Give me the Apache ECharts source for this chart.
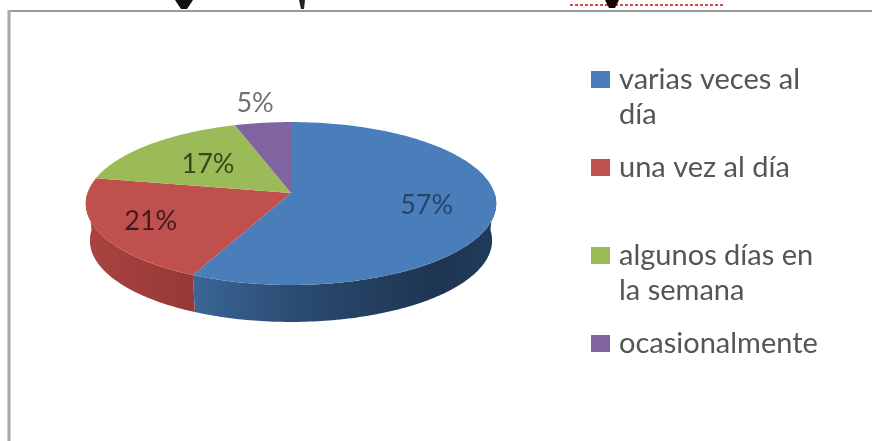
<!DOCTYPE html>
<html>
<head>
<meta charset="utf-8">
<style>
html, body { margin: 0; padding: 0; background: #fff; }
#chart { width: 872px; height: 441px; filter: blur(0.7px); }
</style>
<script src="https://cdn.jsdelivr.net/npm/echarts@6/dist/echarts.min.js"></script>
</head>
<body>
<div id="chart"></div>
<script>
const categories = ['varias veces al\ndía', 'una vez al día', 'algunos días en\nla semana', 'ocasionalmente'];
const values = [57, 21, 17, 5];
const labels = ['57%', '21%', '17%', '5%'];

const topColors = ['#4a7ebb', '#c0504d', '#9bbb59', '#8064a2'];
const labelColors = ['#2a4468', '#3c1c1c', '#2f4a1c', '#707070'];
const labelRadius = [0.67, 0.74, 0.57, 1.32];
const sideStops = [
    [[0, '#3b6596'], [0.35, '#2a4a70'], [0.8, '#1e3551'], [1, '#213c5c']],
    [[0, '#ab4340'], [1, '#943936']]
];
const sideRange = [[195, 497], [88, 196]];

// projected pie: far side shrunk, so the apex sits above the rim's middle
const CX = 291, CY = 193, RX = 203.5, RY = 80.1, K = 0.129, DEPTH = 37, BOTTOM_SCALE = 0.98;
const FONT = 'Lato, "Open Sans", sans-serif';

const total = values.reduce((a, b) => a + b, 0);
const starts = [];
values.reduce((acc, v, i) => { starts[i] = acc; return acc + v; }, 0);

function project(deg, r) {
    const a = deg * Math.PI / 180;
    const u = r * Math.sin(a), v = r * Math.cos(a);
    const d = 1 + K * v;
    return [CX + RX * u / d, CY - RY * v / d];
}

function angles(i) {
    const a0 = starts[i] / total * 360;
    return [a0, a0 + values[i] / total * 360];
}

function rim(a0, a1) {
    const pts = [];
    const n = Math.max(2, Math.ceil(a1 - a0));
    for (let s = 0; s <= n; s++) pts.push(project(a0 + (a1 - a0) * s / n, 1));
    return pts;
}

function renderSide(params, api) {
    const i = params.dataIndex;
    api.value(0);
    if (i >= sideStops.length) return { type: 'group', children: [] };
    const [a0, a1] = angles(i);
    const from = Math.max(a0, 90), to = Math.min(a1, 270);
    const upper = rim(from, to);
    const lower = upper.slice().reverse().map(p => [CX + (p[0] - CX) * BOTTOM_SCALE, p[1] + DEPTH]);
    const [x0, x1] = sideRange[i];
    return {
        type: 'polygon',
        shape: { points: upper.concat(lower) },
        style: {
            fill: new echarts.graphic.LinearGradient(x0, 0, x1, 0,
                sideStops[i].map(s => ({ offset: s[0], color: s[1] })), true)
        }
    };
}

function renderTop(params, api) {
    const i = params.dataIndex;
    api.value(0);
    const [a0, a1] = angles(i);
    const mid = (a0 + a1) / 2;
    const lp = project(mid, labelRadius[i]);
    const legendY = 79 + i * 88;
    return {
        type: 'group',
        children: [
            {
                type: 'polygon',
                shape: { points: [[CX, CY]].concat(rim(a0, a1)) },
                style: { fill: topColors[i] }
            },
            {
                type: 'text',
                z2: 10,
                style: {
                    text: labels[i], x: lp[0], y: lp[1], fill: labelColors[i],
                    font: '27px ' + FONT, align: 'center', verticalAlign: 'middle'
                }
            },
            {
                type: 'rect',
                shape: { x: 591, y: legendY - 8, width: 19, height: 17 },
                style: { fill: topColors[i] }
            },
            {
                type: 'text',
                style: {
                    text: categories[i], x: 619, y: legendY - 17, fill: '#555555',
                    font: '29px ' + FONT, lineHeight: 35, align: 'left', verticalAlign: 'top'
                }
            }
        ]
    };
}

const chart = echarts.init(document.getElementById('chart'), null, { width: 872, height: 441 });
chart.setOption({
    animation: false,
    backgroundColor: '#ffffff',
    graphic: [
        // frame of the pasted chart and the scraps above it
        { type: 'line', shape: { x1: 8, y1: 11, x2: 872, y2: 11 }, style: { stroke: '#9a9a9a', lineWidth: 2 } },
        { type: 'line', shape: { x1: 9, y1: 10, x2: 9, y2: 441 }, style: { stroke: '#a8a8a8', lineWidth: 3 } },
        { type: 'line', shape: { x1: 570, y1: 5, x2: 723, y2: 5 }, style: { stroke: '#e0474c', lineWidth: 2, lineDash: [3, 2] } },
        { type: 'polygon', shape: { points: [[175, 0], [193, 0], [187, 9], [181, 9]] }, style: { fill: '#111' } },
        { type: 'polygon', shape: { points: [[299, 0], [305, 0], [304, 9], [301, 9]] }, style: { fill: '#222' } },
        { type: 'polygon', shape: { points: [[605, 0], [619, 0], [615, 8], [609, 8]] }, style: { fill: '#1a0505' } }
    ],
    series: [
        { type: 'custom', coordinateSystem: 'none', renderItem: renderSide, data: values, z: 1 },
        { type: 'custom', coordinateSystem: 'none', renderItem: renderTop, data: values, z: 2 }
    ]
});
</script>
</body>
</html>
